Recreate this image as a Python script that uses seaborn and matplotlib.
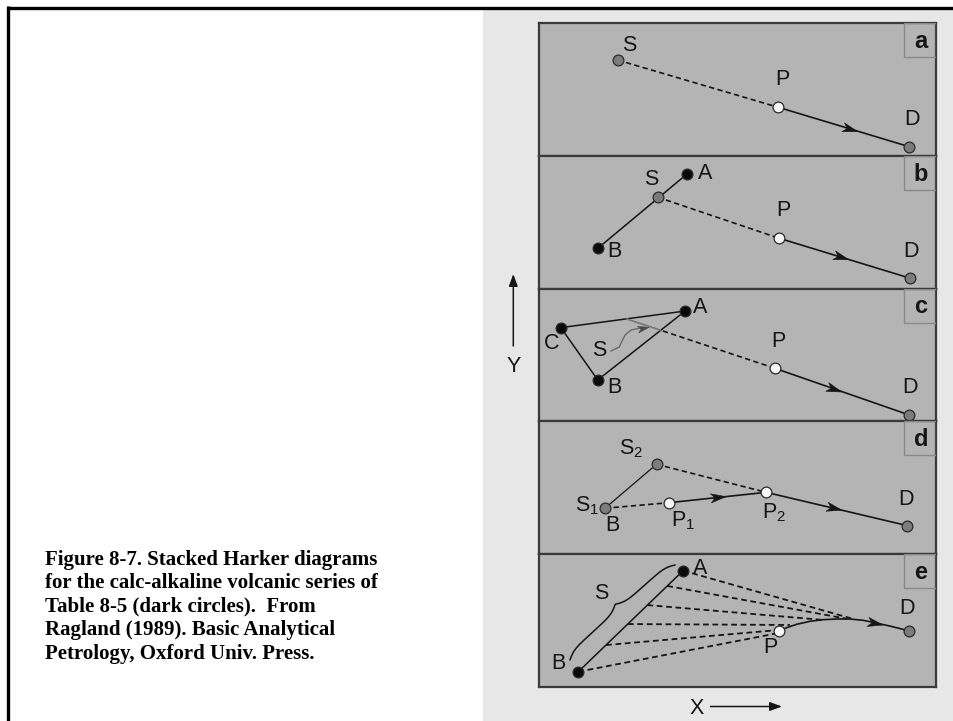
import numpy as np
import pandas as pd
import matplotlib
matplotlib.use("Agg")
import matplotlib.pyplot as plt
import seaborn as sns
from matplotlib.patches import Rectangle
from matplotlib.path import Path
from matplotlib.markers import MarkerStyle
from matplotlib.transforms import Affine2D

# ---------------- data (panel units: X 0-100 left->right, Y 0-100 bottom->top) -------------
panel_letters = ["a", "b", "c", "d", "e"]

a_names = ["S", "P", "D"]
a_x = [19.8, 60.3, 93.2]
a_y = [72.1, 36.5, 6.9]
a_kind = ["gray", "white", "gray"]

b_names = ["A", "S", "B", "P", "D"]
b_x = [37.2, 29.9, 14.8, 60.5, 93.5]
b_y = [86.1, 68.8, 30.3, 37.9, 7.8]
b_kind = ["black", "gray", "black", "white", "gray"]

c_names = ["A", "C", "B", "P", "D"]
c_x = [36.8, 5.5, 14.8, 59.4, 93.3]
c_y = [83.1, 70.6, 31.2, 40.0, 4.8]
c_kind = ["black", "black", "black", "white", "gray"]
c_s_x = [30.5, 22.1]          # S path crossing edge AB, then edge CA
c_s_y = [68.8, 77.1]
c_wave_x = [18.1, 20.2, 20.9, 21.7, 23.2, 26.2]
c_wave_y = [53.0, 56.0, 60.5, 65.1, 68.8, 70.7]

d_names = ["S2", "S1", "P1", "P2", "D"]
d_x = [29.6, 16.6, 32.8, 57.2, 92.8]
d_y = [67.7, 34.6, 38.8, 46.6, 21.5]
d_kind = ["gray", "gray", "white", "white", "gray"]

e_names = ["A", "B", "P", "D"]
e_x = [36.3, 9.9, 60.5, 93.3]
e_y = [87.6, 11.5, 42.2, 42.2]
e_kind = ["black", "black", "white", "gray"]
e_ab_x = [36.3, 32.3, 27.3, 22.4, 16.9, 9.9]
e_ab_y = [87.6, 76.1, 61.7, 47.4, 31.6, 11.5]
e_end_x = [79.2, 77.5, 71.6, 63.2, 60.3, 59.9]
e_end_y = [51.2, 51.4, 50.5, 46.7, 42.9, 40.4]
e_curve_x = [60.5, 62.4, 64.9, 68.3, 71.6, 75.0, 78.3, 81.7, 84.6, 88.4, 93.3]
e_curve_y = [42.2, 44.7, 47.2, 49.5, 50.7, 51.2, 51.2, 50.2, 48.4, 45.9, 42.2]

caption_lines = [
    "Figure 8-7. Stacked Harker diagrams",
    "for the calc-alkaline volcanic series of",
    "Table 8-5 (dark circles).  From",
    "Ragland (1989). Basic Analytical",
    "Petrology, Oxford Univ. Press.",
]

# ---------------- layout / style ----------------
W, H = 954, 721
PX0, PW = 539, 397          # panel left, width (px)
PY0, PH = 23, 132.8         # first panel top, panel height (px)
PANEL_FC = "#b4b4b4"
LIGHT_BG = "#e7e7e7"
INK = "#151515"
FILL = {"gray": "#7c7c7c", "white": "#f7f7f7", "black": "#0a0a0a"}

sns.set_theme(style="white")
plt.rcParams["font.family"] = ["Liberation Sans", "DejaVu Sans"]
plt.rcParams["mathtext.default"] = "regular"

fig = plt.figure(figsize=(W / 100, H / 100), dpi=100)
fig.patch.set_facecolor("white")

bg = fig.add_axes([0, 0, 1, 1])
bg.set_xlim(0, W)
bg.set_ylim(H, 0)
bg.axis("off")
bg.add_patch(Rectangle((483, 9), W - 483, H - 9, facecolor=LIGHT_BG, edgecolor="none"))
bg.plot([7, W], [7.5, 7.5], color="black", lw=2.4, solid_capstyle="butt")
bg.plot([8.2, 8.2], [6.3, H], color="black", lw=2.4, solid_capstyle="butt")

for i, line in enumerate(caption_lines):
    bg.text(45, 564.5 + i * 23.6, line, fontsize=15, fontweight="bold",
            family=["Liberation Serif", "DejaVu Serif"], va="baseline", ha="left", color="black")

# axis arrows
bg.annotate("", xy=(513.3, 274), xytext=(513.3, 346),
            arrowprops=dict(arrowstyle="-|>,head_length=0.6,head_width=0.22", color=INK, lw=1.1,
                            shrinkA=0, shrinkB=0))
bg.text(513.3, 366, "Y", fontsize=15.5, ha="center", va="center", color=INK)
bg.text(696.7, 708.5, "X", fontsize=15.5, ha="center", va="center", color=INK)
bg.annotate("", xy=(782, 706.5), xytext=(710.5, 706.5),
            arrowprops=dict(arrowstyle="-|>,head_length=0.6,head_width=0.22", color=INK, lw=1.1,
                            shrinkA=0, shrinkB=0))

axes = []
for i in range(5):
    top = PY0 + PH * i
    ax = fig.add_axes([PX0 / W, 1 - (top + PH) / H, PW / W, PH / H])
    ax.set_xlim(0, 100)
    ax.set_ylim(0, 100)
    ax.set_facecolor(PANEL_FC)
    ax.set_xticks([])
    ax.set_yticks([])
    for sp in ax.spines.values():
        sp.set_visible(True)
        sp.set_color("#3a3a3a")
        sp.set_linewidth(1.6)
    bw, bh = 32 / PW, 34 / PH
    ax.add_patch(Rectangle((1 - bw, 1 - bh), bw, bh, transform=ax.transAxes, fill=False,
                           edgecolor="#8a8a8a", lw=1.0, zorder=6))
    ax.text(1 - bw / 2 + 0.002, 1 - bh / 2 - 0.01, panel_letters[i], transform=ax.transAxes,
            ha="center", va="center", fontsize=17, fontweight="bold", color=INK, zorder=7)
    axes.append(ax)

DASH = (0, (3.2, 2.0))
SX, SY = PW / 100, PH / 100   # px per data unit
STEALTH = Path([(1.0, 0.0), (-1.0, 0.6), (-0.45, 0.0), (-1.0, -0.6), (1.0, 0.0)],
               [Path.MOVETO, Path.LINETO, Path.LINETO, Path.LINETO, Path.CLOSEPOLY])


def seg(ax, xs, ys, ls="-", lw=1.2, color=INK, z=2):
    sns.lineplot(x=list(xs), y=list(ys), ax=ax, sort=False, estimator=None, color=color,
                 linewidth=lw, linestyle=ls, zorder=z, legend=False)


def head(ax, x0, y0, x1, y1, frac, color=INK, size=11):
    xh, yh = x0 + frac * (x1 - x0), y0 + frac * (y1 - y0)
    ang = np.degrees(np.arctan2((y1 - y0) * SY, (x1 - x0) * SX))
    ms = MarkerStyle(STEALTH, transform=Affine2D().rotate_deg(ang))
    ax.plot([xh], [yh], marker=ms, markersize=size, color=color, markeredgewidth=0.4,
            linestyle="none", zorder=4)


def points(ax, xs, ys, kinds):
    df = pd.DataFrame({"x": xs, "y": ys, "kind": kinds})
    for k, sub in df.groupby("kind"):
        sns.scatterplot(data=sub, x="x", y="y", ax=ax, s=60, color=FILL[k], edgecolor="#2a2a2a",
                        linewidth=0.9, zorder=5, legend=False)
    ax.set_xlabel("")
    ax.set_ylabel("")


def label(ax, x, y, txt, dx, dy, fs=15.5):
    ax.annotate(txt, xy=(x, y), xytext=(dx, dy), textcoords="offset pixels", ha="center",
                va="center", fontsize=fs, color=INK, zorder=8)


# ---- panel a ----
ax = axes[0]
S, P, D = 0, 1, 2
seg(ax, [a_x[S], a_x[P]], [a_y[S], a_y[P]], ls=DASH)
seg(ax, [a_x[P], a_x[D]], [a_y[P], a_y[D]])
head(ax, a_x[P], a_y[P], a_x[D], a_y[D], 0.55)
points(ax, a_x, a_y, a_kind)
for n, x, y, off in zip(a_names, a_x, a_y, [(12, 15), (4, 28), (3, 27)]):
    label(ax, x, y, n, *off)

# ---- panel b ----
ax = axes[1]
A, S, B, P, D = range(5)
seg(ax, [b_x[B], b_x[A]], [b_y[B], b_y[A]], lw=1.1)
seg(ax, [b_x[S], b_x[P]], [b_y[S], b_y[P]], ls=DASH)
seg(ax, [b_x[P], b_x[D]], [b_y[P], b_y[D]])
head(ax, b_x[P], b_y[P], b_x[D], b_y[D], 0.47)
points(ax, b_x, b_y, b_kind)
for n, x, y, off in zip(b_names, b_x, b_y, [(18, 1), (-6, 18), (17, -3), (4, 28), (1, 27)]):
    label(ax, x, y, n, *off)

# ---- panel c ----
ax = axes[2]
A, C, B, P, D = range(5)
seg(ax, [c_x[C], c_x[A], c_x[B], c_x[C]], [c_y[C], c_y[A], c_y[B], c_y[C]], lw=1.1)
seg(ax, [c_x[P], c_s_x[0]], [c_y[P], c_s_y[0]], ls=DASH)
seg(ax, c_s_x, c_s_y, lw=1.3, color="#7a7a7a")
seg(ax, c_wave_x, c_wave_y, lw=1.0, color="#6a6a6a")
head(ax, c_wave_x[-2], c_wave_y[-2], c_wave_x[-1], c_wave_y[-1], 1.0, color="#4a4a4a", size=8)
seg(ax, [c_x[P], c_x[D]], [c_y[P], c_y[D]])
head(ax, c_x[P], c_y[P], c_x[D], c_y[D], 0.44)
points(ax, c_x, c_y, c_kind)
for n, x, y, off in zip(c_names, c_x, c_y, [(15, 4), (-9, -16), (17, -8), (4, 27), (1, 28)]):
    label(ax, x, y, n, *off)
label(ax, c_wave_x[0], c_wave_y[0], "S", -12, 1)

# ---- panel d ----
ax = axes[3]
S2, S1, P1, P2, D = range(5)
seg(ax, [d_x[S1], d_x[S2]], [d_y[S1], d_y[S2]], lw=0.9)
seg(ax, [d_x[S2], d_x[P2]], [d_y[S2], d_y[P2]], ls=DASH)
seg(ax, [d_x[S1], d_x[P1]], [d_y[S1], d_y[P1]], ls=DASH)
seg(ax, [d_x[P1], d_x[P2]], [d_y[P1], d_y[P2]])
head(ax, d_x[P1], d_y[P1], d_x[P2], d_y[P2], 0.5)
seg(ax, [d_x[P2], d_x[D]], [d_y[P2], d_y[D]])
head(ax, d_x[P2], d_y[P2], d_x[D], d_y[D], 0.48)
points(ax, d_x, d_y, d_kind)
d_txt = ["S$_2$", "S$_1$", "P$_1$", "P$_2$", "D"]
for t, x, y, off in zip(d_txt, d_x, d_y, [(-25, 16), (-18, 3), (14, -18), (8, -20), (-1, 26)]):
    label(ax, x, y, t, *off)
label(ax, d_x[S1], d_y[S1], "B", 7, -17)

# ---- panel e ----
ax = axes[4]
A, B, P, D = range(4)
seg(ax, [e_x[A], e_x[B]], [e_y[A], e_y[B]], lw=1.1)
for x0, y0, x1, y1 in zip(e_ab_x, e_ab_y, e_end_x, e_end_y):
    seg(ax, [x0, x1], [y0, y1], ls=DASH, lw=1.3)
seg(ax, e_curve_x, e_curve_y, lw=1.2)
head(ax, e_curve_x[7], e_curve_y[7], e_curve_x[8], e_curve_y[8], 1.0)

# curly brace beside A-B (computed in pixel space of the panel)
p0 = np.array([7.8 * SX, 20.3 * SY])
p1 = np.array([34.3 * SX, 91.9 * SY])
v = p1 - p0
L = np.linalg.norm(v)
u = v / L
nrm = np.array([-u[1], u[0]])
n = 200
t = np.linspace(0, L / 2, n // 2)
beta = 14 / (L / 2)
y1 = 1 / (1 + np.exp(-beta * t)) + 1 / (1 + np.exp(-beta * (t - L / 2))) - 0.5
prof = np.concatenate([y1, y1[::-1]])
tt = np.concatenate([t, L - t[::-1]])
depth = 11.0
bx = (p0[0] + u[0] * tt + nrm[0] * prof * depth) / SX
by = (p0[1] + u[1] * tt + nrm[1] * prof * depth) / SY
seg(ax, bx, by, lw=1.1)

points(ax, e_x, e_y, e_kind)
for nme, x, y, off in zip(e_names, e_x, e_y, [(17, 2), (-20, 8), (-9, -17), (-2, 22)]):
    label(ax, x, y, nme, *off)
label(ax, 15.8, 70.6, "S", 0, 0)

for ax in axes:
    ax.set_xlim(0, 100)
    ax.set_ylim(0, 100)
    ax.set_xlabel("")
    ax.set_ylabel("")

fig.savefig("out.png", dpi=100, facecolor="white")
